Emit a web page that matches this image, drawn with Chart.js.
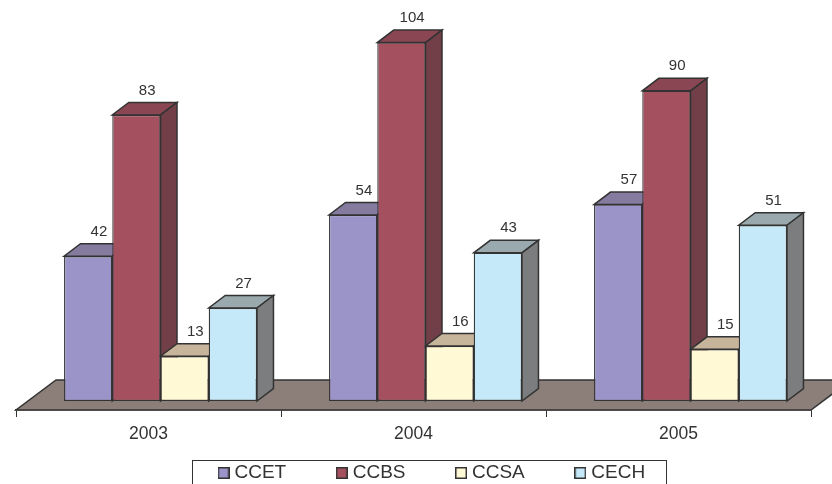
<!DOCTYPE html>
<html>
<head>
<meta charset="utf-8">
<script src="https://cdn.jsdelivr.net/npm/chart.js@4"></script>
<style>
  html, body { margin: 0; padding: 0; background: #fff; }
  #wrap { width: 832px; height: 484px; overflow: hidden; }
</style>
</head>
<body>
<div id="wrap"><canvas id="myChart" width="832" height="484"></canvas></div>
<script>
const years = ['2003', '2004', '2005'];
const ccet = [42, 54, 57];
const ccbs = [83, 104, 90];
const ccsa = [13, 16, 15];
const cech = [27, 43, 51];

const edge = '#333333';
const textColor = '#333333';
const font = 'Liberation Sans, Arial, sans-serif';

// front, top and side colours of each series
const faces = [
  ['#9b94c8', '#857b9f', '#6f6a8a'],
  ['#a5505f', '#8a4753', '#723f49'],
  ['#fff9d6', '#c6b59a', '#a8a48c'],
  ['#c6e9fa', '#9aa9ad', '#7b7d7f'],
];

const depthX = 16.5, depthY = 12.5;
const floorX = 40, floorY = 30;
const barShift = 12;

function poly(ctx, pts, fill) {
  ctx.beginPath();
  pts.forEach((p, i) => i ? ctx.lineTo(p[0], p[1]) : ctx.moveTo(p[0], p[1]));
  ctx.closePath();
  ctx.fillStyle = fill;
  ctx.fill();
  ctx.strokeStyle = edge;
  ctx.lineWidth = 1.5;
  ctx.stroke();
}

function legendMarker(color) {
  const c = document.createElement('canvas');
  c.width = 12;
  c.height = 12;
  const g = c.getContext('2d');
  g.fillStyle = color;
  g.fillRect(0, 0, 12, 12);
  g.strokeStyle = edge;
  g.lineWidth = 1.5;
  g.strokeRect(0.75, 0.75, 10.5, 10.5);
  return c;
}

const bars3d = {
  id: 'bars3d',
  beforeInit(chart) {
    // the legend is only a thin strip at the bottom, the wide padding is for spacing
    const fit = chart.legend.fit;
    chart.legend.fit = function () {
      fit.call(this);
      this.height = 24;
    };
  },
  afterLayout(chart) {
    chart.legend.left = 168;
    chart.legend.top = 409.5;
  },
  afterDatasetsUpdate(chart) {
    chart.data.datasets.forEach((d, i) => {
      chart.getDatasetMeta(i).data.forEach(bar => { bar.x += barShift; });
    });
  },
  beforeDatasetsDraw(chart) {
    const ctx = chart.ctx;
    const a = chart.chartArea;
    ctx.save();
    poly(ctx, [
      [a.left, a.bottom], [a.right, a.bottom],
      [a.right + floorX, a.bottom - floorY], [a.left + floorX, a.bottom - floorY],
    ], '#8c7e79');
    // tops and sides left to right, the fronts all go over them afterwards
    chart.data.datasets.forEach((d, i) => {
      const f = faces[i];
      chart.getDatasetMeta(i).data.forEach(bar => {
        const l = bar.x - bar.width / 2, r = bar.x + bar.width / 2;
        poly(ctx, [[l, bar.y], [r, bar.y], [r + depthX, bar.y - depthY], [l + depthX, bar.y - depthY]], f[1]);
        poly(ctx, [[r, bar.y], [r + depthX, bar.y - depthY], [r + depthX, bar.base - depthY], [r, bar.base]], f[2]);
      });
    });
    ctx.restore();
  },
  afterDatasetsDraw(chart) {
    const ctx = chart.ctx;
    ctx.save();
    ctx.font = '15px ' + font;
    ctx.fillStyle = textColor;
    ctx.textAlign = 'center';
    ctx.textBaseline = 'middle';
    chart.data.datasets.forEach((d, i) => {
      chart.getDatasetMeta(i).data.forEach((bar, j) => {
        ctx.fillText(d.data[j], bar.x + depthX / 2 + 2.5, bar.y - 24.5);
      });
    });
    ctx.restore();
  },
  afterDraw(chart) {
    // box round the legend, runs off the bottom of the picture
    const ctx = chart.ctx;
    ctx.save();
    ctx.strokeStyle = edge;
    ctx.lineWidth = 1;
    ctx.strokeRect(192.5, 460.5, 474, 40);
    ctx.restore();
  },
};

const series = [['CCET', ccet], ['CCBS', ccbs], ['CCSA', ccsa], ['CECH', cech]];

new Chart(document.getElementById('myChart'), {
  type: 'bar',
  data: {
    labels: years,
    datasets: series.map((s, i) => ({
      label: s[0],
      data: s[1],
      backgroundColor: faces[i][0],
      borderColor: edge,
      borderWidth: 1.25,
      borderSkipped: false,
      categoryPercentage: 0.728,
      barPercentage: 1,
    })),
  },
  options: {
    responsive: false,
    animation: false,
    layout: { padding: { left: 16, right: 21, top: 5, bottom: 0 } },
    scales: {
      x: {
        afterFit(scale) { scale.height = 50; },
        grid: { drawOnChartArea: false, color: edge, tickLength: 7, lineWidth: 1 },
        border: { color: edge, width: 1.5 },
        ticks: { color: textColor, font: { family: font, size: 17.5 }, padding: 7, maxRotation: 0 },
      },
      y: { display: false, min: -2.6, max: 114.9 },
    },
    plugins: {
      tooltip: { enabled: false },
      legend: {
        position: 'bottom',
        align: 'start',
        labels: {
          color: textColor,
          font: { family: font, size: 19 },
          padding: 54,
          usePointStyle: true,
          pointStyleWidth: 3,
          generateLabels: chart => chart.data.datasets.map((d, i) => ({
            text: d.label,
            datasetIndex: i,
            fontColor: textColor,
            pointStyle: legendMarker(d.backgroundColor),
          })),
        },
      },
    },
  },
  plugins: [bars3d],
});
</script>
</body>
</html>
